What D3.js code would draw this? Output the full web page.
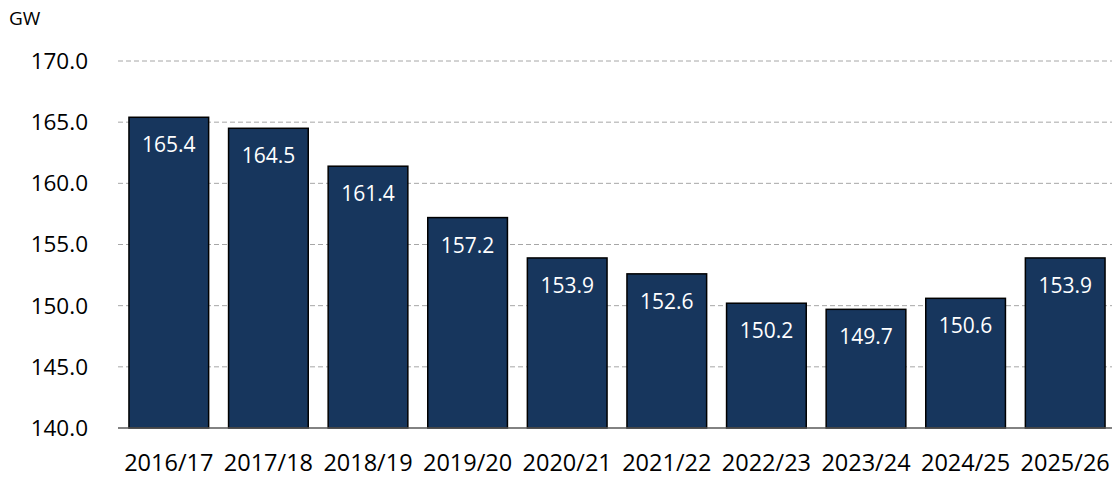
<!DOCTYPE html>
<html>
<head>
<meta charset="utf-8">
<script src="https://cdn.jsdelivr.net/npm/d3@7.9.0/dist/d3.min.js"></script>
<style>
  body { margin: 0; background: #fff; }
  svg text { font-family: "Open Sans", "Noto Sans", sans-serif; }
</style>
</head>
<body>
<svg id="chart" width="1112" height="477"></svg>
<script>
// chart data
const years = ['2016/17', '2017/18', '2018/19', '2019/20', '2020/21', '2021/22', '2022/23', '2023/24', '2024/25', '2025/26'];
const demand = [165.4, 164.5, 161.4, 157.2, 153.9, 152.6, 150.2, 149.7, 150.6, 153.9];
const yTicks = [140, 145, 150, 155, 160, 165, 170];

const svg = d3.select('#chart');

// scales
const x = d3.scaleBand().domain(years).range([119, 1115]).paddingInner(0.2).paddingOuter(0.1);
const y = d3.scaleLinear().domain([140, 170]).range([428, 61]);

// dashed gridlines
svg.append('g')
  .selectAll('line')
  .data(yTicks.filter((d) => d > 140))
  .join('line')
  .attr('x1', 118)
  .attr('x2', 1112)
  .attr('y1', (d) => y(d))
  .attr('y2', (d) => y(d))
  .attr('stroke', '#a6a6a6')
  .attr('stroke-width', 1)
  .attr('stroke-dasharray', '5,3');

// y tick labels
svg.append('g')
  .selectAll('text')
  .data(yTicks)
  .join('text')
  .attr('x', 88)
  .attr('y', (d) => y(d))
  .attr('dy', '0.35em')
  .attr('text-anchor', 'end')
  .attr('font-size', 22.5)
  .attr('fill', '#000')
  .text((d) => d.toFixed(1));

// unit label
svg.append('text')
  .attr('x', 9)
  .attr('y', 25)
  .attr('font-size', 19)
  .attr('fill', '#000')
  .text('GW');

// bars
svg.append('g')
  .selectAll('rect')
  .data(demand)
  .join('rect')
  .attr('x', (d, i) => x(years[i]))
  .attr('y', (d) => y(d))
  .attr('width', x.bandwidth())
  .attr('height', (d) => y(140) - y(d))
  .attr('fill', '#17365d')
  .attr('stroke', '#000')
  .attr('stroke-width', 1.5);

// value labels inside bars
svg.append('g')
  .selectAll('text')
  .data(demand)
  .join('text')
  .attr('x', (d, i) => x(years[i]) + x.bandwidth() / 2)
  .attr('y', (d) => y(d) + 35)
  .attr('text-anchor', 'middle')
  .attr('font-size', 21)
  .attr('fill', '#fff')
  .text((d) => d.toFixed(1));

// x axis line
svg.append('line')
  .attr('x1', 118)
  .attr('x2', 1112)
  .attr('y1', y(140))
  .attr('y2', y(140))
  .attr('stroke', '#595959')
  .attr('stroke-width', 1.5);

// x labels
svg.append('g')
  .selectAll('text')
  .data(years)
  .join('text')
  .attr('x', (d) => x(d) + x.bandwidth() / 2)
  .attr('y', 471)
  .attr('text-anchor', 'middle')
  .attr('font-size', 23.5)
  .attr('fill', '#000')
  .text((d) => d);
</script>
</body>
</html>
